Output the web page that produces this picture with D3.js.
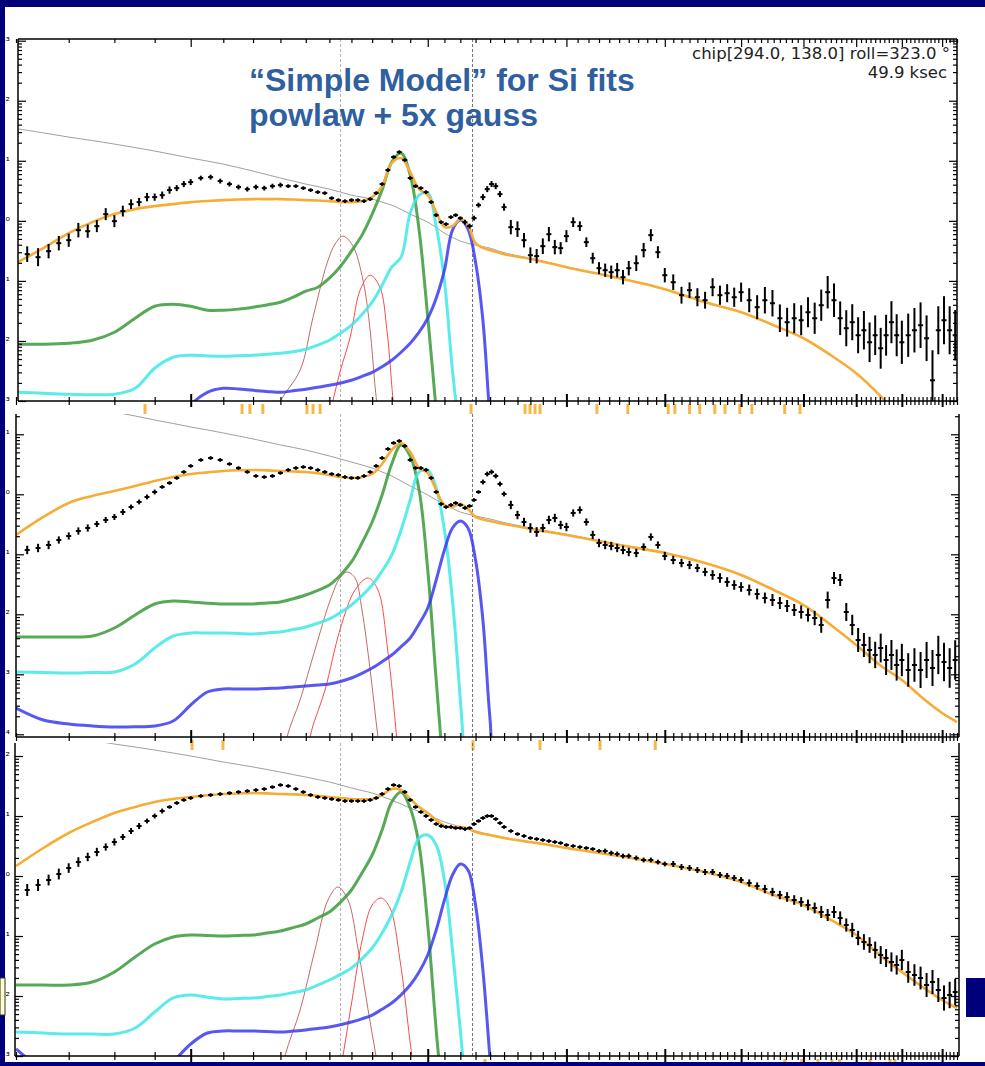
<!DOCTYPE html>
<meta charset="utf-8">
<script src="https://cdn.jsdelivr.net/npm/d3@7"></script>
<style>
  body { margin: 0; background: #00007a; }
</style>
<div id="chart"></div>
<script>

// energy grid (keV) for the model curves
const modelE = [0.60, 0.65, 0.70, 0.75, 0.80, 0.85, 0.90, 0.95, 1.00, 1.05, 1.10, 1.15, 1.20, 1.25, 1.30, 1.35, 1.40, 1.45,
  1.50, 1.55, 1.60, 1.65, 1.70, 1.75, 1.80, 1.85, 1.90, 1.95, 2.00, 2.05, 2.10, 2.15, 2.20, 2.25, 2.30, 2.35, 2.40,
  2.50, 2.75, 3.0, 3.5, 4.0, 4.5, 5.0, 5.5, 6.0, 6.5, 7.0, 7.5, 8.0, 8.5, 9.0, 9.4];

// all rates are log10(counts/s/keV)
// --- panel 1 models
const p1Gray = [1.537, 1.465, 1.395, 1.337, 1.278, 1.22, 1.162, 1.103, 1.045, 0.995, 0.945, 0.887, 0.828, 0.77, 0.712, 0.662, 0.612, 0.57,
  0.528, 0.478, 0.428, 0.395, 0.362, 0.312, 0.262, 0.19, 0.112, 0.045, -0.022, -0.11, -0.205, -0.275, -0.338, -0.375, -0.405, -0.43, -0.455,
  -0.53, -0.645, -0.765, -0.95, -1.135, -1.35, -1.52, -1.735, -1.95, -2.235, -2.535, -2.9, -3.3, -3.7, -4.0, -4.15];
const p1Total = [-0.705, -0.455, -0.205, -0.022, 0.112, 0.195, 0.245, 0.278, 0.312, 0.33, 0.345, 0.355, 0.362, 0.362, 0.362, 0.355, 0.345, 0.338,
  0.328, 0.312, 0.312, 0.328, 0.395, 0.578, 0.962, 1.045, 0.812, 0.528, 0.428, 0.145, -0.105, -0.088, 0.028, -0.072, -0.372, -0.45, -0.488,
  -0.555, -0.655, -0.772, -0.955, -1.138, -1.355, -1.522, -1.738, -1.955, -2.238, -2.538, -2.905, -3.32, -3.7, -4.0, -4.15];
const p1Green = [-2.055, -2.055, -2.038, -1.988, -1.855, -1.622, -1.422, -1.388, -1.422, -1.488, -1.488, -1.47, -1.438, -1.4, -1.355, -1.27, -1.172, -1.105,
  -0.955, -0.755, -0.505, -0.238, 0.112, 0.512, 0.978, 1.128, 0.762, -0.15, -1.605, -3.155, -5, -6, -6, -6, -6, -6, -6,
  -6, -6, -6, -6, -6, -6, -6, -6, -6, -6, -6, -6, -6, -6, -6, -6];
const p1Cyan = [-2.855, -2.87, -2.888, -2.895, -2.888, -2.788, -2.455, -2.272, -2.238, -2.25, -2.255, -2.245, -2.238, -2.222, -2.205, -2.18, -2.138, -2.07,
  -1.988, -1.87, -1.738, -1.56, -1.355, -1.072, -0.772, -0.605, 0.128, 0.428, 0.462, -0.09, -1.0, -2.5, -3.655, -5, -6, -6, -6,
  -6, -6, -6, -6, -6, -6, -6, -6, -6, -6, -6, -6, -6, -6, -6, -6];
const p1Blue = [-6, -6, -6, -6, -6, -6, -6, -3.6, -3.07, -2.855, -2.788, -2.8, -2.822, -2.84, -2.855, -2.83, -2.805, -2.77,
  -2.738, -2.7, -2.655, -2.59, -2.522, -2.43, -2.322, -2.188, -2.038, -1.855, -1.622, -1.288, -0.822, -0.155, 0.012, -0.138, -0.688, -1.655, -3.32,
  -6, -6, -6, -6, -6, -6, -6, -6, -6, -6, -6, -6, -6, -6, -6, -6];
const p1LineAE = [1.261, 1.30, 1.377, 1.43, 1.49, 1.525, 1.56, 1.605, 1.655, 1.69, 1.713, 1.738];
const p1LineA = [-3.49, -3.0, -2.49, -1.605, -0.705, -0.388, -0.255, -0.405, -0.988, -1.822, -2.705, -3.49];
const p1LineBE = [1.481, 1.516, 1.547, 1.594, 1.641, 1.690, 1.739, 1.775, 1.806, 1.832];
const p1LineB = [-3.49, -2.99, -2.52, -1.94, -1.155, -0.905, -1.105, -1.82, -2.938, -3.655];

// --- panel 2 models
const p2Gray = [1.655, 1.59, 1.522, 1.447, 1.372, 1.305, 1.238, 1.18, 1.122, 1.072, 1.022, 0.972, 0.922, 0.872, 0.822, 0.78, 0.738, 0.688,
  0.638, 0.588, 0.538, 0.488, 0.438, 0.372, 0.305, 0.222, 0.138, 0.063, -0.012, -0.095, -0.178, -0.237, -0.295, -0.33, -0.362, -0.387, -0.412,
  -0.47, -0.58, -0.665, -0.835, -0.97, -1.14, -1.34, -1.59, -1.84, -2.17, -2.505, -2.84, -3.09, -3.39, -3.64, -3.79];
const p2Total = [-0.678, -0.378, -0.145, -0.028, 0.055, 0.138, 0.222, 0.288, 0.338, 0.365, 0.388, 0.4, 0.405, 0.398, 0.388, 0.38, 0.372, 0.35,
  0.322, 0.288, 0.272, 0.288, 0.338, 0.505, 0.738, 0.855, 0.705, 0.438, 0.355, 0.072, -0.178, -0.212, -0.162, -0.245, -0.378, -0.42, -0.445,
  -0.495, -0.595, -0.678, -0.845, -0.978, -1.145, -1.345, -1.595, -1.845, -2.178, -2.512, -2.845, -3.095, -3.395, -3.645, -3.795];
const p2Green = [-2.378, -2.378, -2.378, -2.362, -2.228, -2.012, -1.828, -1.778, -1.795, -1.815, -1.828, -1.828, -1.828, -1.81, -1.795, -1.74, -1.678, -1.6,
  -1.512, -1.345, -1.128, -0.812, -0.462, -0.012, 0.505, 0.822, 0.638, 0.072, -1.262, -3.095, -4.76, -6, -6, -6, -6, -6, -6,
  -6, -6, -6, -6, -6, -6, -6, -6, -6, -6, -6, -6, -6, -6, -6, -6];
const p2Cyan = [-2.962, -2.97, -2.978, -2.97, -2.962, -2.828, -2.562, -2.362, -2.312, -2.312, -2.312, -2.32, -2.328, -2.31, -2.295, -2.255, -2.212, -2.15,
  -2.078, -1.97, -1.845, -1.69, -1.512, -1.28, -1.012, -0.595, -0.095, 0.372, 0.405, 0.105, -0.595, -1.762, -3.428, -5.1, -6, -6, -6,
  -6, -6, -6, -6, -6, -6, -6, -6, -6, -6, -6, -6, -6, -6, -6, -6];
const p2Blue = [-3.562, -3.762, -3.828, -3.86, -3.878, -3.875, -3.862, -3.778, -3.512, -3.295, -3.245, -3.245, -3.245, -3.235, -3.228, -3.21, -3.195, -3.18,
  -3.162, -3.12, -3.062, -2.985, -2.895, -2.79, -2.678, -2.54, -2.395, -2.16, -1.895, -1.428, -0.928, -0.562, -0.445, -0.562, -1.095, -2.095, -3.762,
  -6, -6, -6, -6, -6, -6, -6, -6, -6, -6, -6, -6, -6, -6, -6, -6];
const p2LineAE = [1.29, 1.325, 1.377, 1.438, 1.504, 1.547, 1.579, 1.617, 1.65, 1.69, 1.729, 1.765];
const p2LineA = [-4.9, -4.045, -3.428, -2.595, -1.762, -1.395, -1.295, -1.395, -1.928, -2.928, -4.045, -4.9];
const p2LineBE = [1.39, 1.417, 1.481, 1.547, 1.617, 1.68, 1.729, 1.779, 1.826, 1.85];
const p2LineB = [-4.9, -4.045, -3.262, -2.262, -1.595, -1.395, -1.595, -2.595, -4.045, -4.9];

// --- panel 3 models
const p3Gray = [2.433, 2.375, 2.317, 2.258, 2.2, 2.15, 2.1, 2.05, 2.0, 1.95, 1.9, 1.858, 1.817, 1.775, 1.733, 1.69, 1.65, 1.608,
  1.567, 1.517, 1.467, 1.425, 1.383, 1.325, 1.267, 1.2, 1.133, 1.075, 1.017, 0.958, 0.9, 0.858, 0.817, 0.783, 0.75, 0.717, 0.683,
  0.64, 0.555, 0.472, 0.338, 0.205, 0.072, -0.095, -0.312, -0.478, -0.728, -0.978, -1.312, -1.595, -1.845, -2.062, -2.195];
const p3Total = [0.167, 0.467, 0.717, 0.9, 1.05, 1.15, 1.233, 1.283, 1.317, 1.345, 1.367, 1.377, 1.383, 1.377, 1.367, 1.36, 1.35, 1.335,
  1.317, 1.3, 1.283, 1.28, 1.283, 1.35, 1.45, 1.433, 1.283, 1.15, 1.05, 0.933, 0.833, 0.81, 0.817, 0.79, 0.733, 0.705, 0.683,
  0.633, 0.55, 0.467, 0.333, 0.2, 0.067, -0.1, -0.317, -0.483, -0.733, -0.983, -1.317, -1.6, -1.85, -2.067, -2.2];
const p3Green = [-1.817, -1.817, -1.817, -1.767, -1.6, -1.35, -1.133, -1.017, -0.983, -0.99, -1.0, -0.99, -0.983, -0.95, -0.917, -0.86, -0.8, -0.7,
  -0.6, -0.433, -0.233, 0.05, 0.35, 0.767, 1.233, 1.4, 1.133, 0.517, -0.817, -2.567, -4.07, -6, -6, -6, -6, -6, -6,
  -6, -6, -6, -6, -6, -6, -6, -6, -6, -6, -6, -6, -6, -6, -6, -6];
const p3Cyan = [-2.6, -2.617, -2.633, -2.633, -2.633, -2.533, -2.267, -2.033, -1.983, -2.02, -2.05, -2.04, -2.033, -2.01, -1.983, -1.94, -1.9, -1.82,
  -1.733, -1.64, -1.533, -1.38, -1.2, -0.95, -0.65, -0.267, 0.233, 0.633, 0.683, 0.517, -0.067, -1.233, -2.567, -4.07, -6, -6, -6,
  -6, -6, -6, -6, -6, -6, -6, -6, -6, -6, -6, -6, -6, -6, -6, -6];
const p3Blue = [-2.883, -3.233, -3.4, -3.45, -3.45, -3.45, -3.4, -3.1, -2.8, -2.617, -2.583, -2.583, -2.583, -2.59, -2.6, -2.585, -2.567, -2.54,
  -2.517, -2.48, -2.433, -2.38, -2.317, -2.22, -2.117, -1.98, -1.817, -1.6, -1.317, -0.9, -0.4, 0.017, 0.2, 0.1, -0.483, -1.567, -3.067,
  -6, -6, -6, -6, -6, -6, -6, -6, -6, -6, -6, -6, -6, -6, -6, -6];
const p3LineAE = [1.279, 1.317, 1.377, 1.438, 1.494, 1.538, 1.584, 1.632, 1.680, 1.719, 1.755];
const p3LineA = [-3.733, -3.0, -2.233, -1.233, -0.4, -0.183, -0.4, -1.233, -2.233, -3.0, -3.733];
const p3LineBE = [1.525, 1.561, 1.603, 1.651, 1.700, 1.745, 1.791, 1.844, 1.898, 1.926];
const p3LineB = [-3.9, -3.0, -2.067, -1.067, -0.483, -0.367, -0.533, -1.4, -2.733, -3.4];

// --- spectra (bin centres, keV)
const dataE = [0.62, 0.64, 0.66, 0.68, 0.70, 0.72, 0.74, 0.76, 0.78, 0.80, 0.82, 0.84, 0.86, 0.88, 0.90, 0.92, 0.94, 0.96, 0.98, 1.00,
  1.03, 1.06, 1.09, 1.12, 1.15, 1.18, 1.21, 1.24, 1.27, 1.30, 1.33, 1.36, 1.39, 1.42, 1.45, 1.48, 1.51, 1.54, 1.57, 1.60,
  1.63, 1.66, 1.69, 1.72, 1.75, 1.78, 1.81, 1.84, 1.87, 1.90, 1.93, 1.96, 1.99, 2.02, 2.05, 2.08, 2.11, 2.14, 2.17, 2.20,
  2.23, 2.26, 2.29, 2.32, 2.35, 2.38, 2.41, 2.44, 2.47, 2.50,
  2.55, 2.60, 2.65, 2.70, 2.75, 2.80, 2.85, 2.90, 2.95, 3.00, 3.06, 3.12, 3.18, 3.24, 3.30, 3.36, 3.42, 3.48, 3.54, 3.60,
  3.68, 3.76, 3.84, 3.92, 4.00, 4.10, 4.20, 4.30, 4.40, 4.50, 4.60, 4.70, 4.80, 4.90, 5.00,
  5.12, 5.24, 5.36, 5.48, 5.60, 5.72, 5.84, 5.96, 6.08, 6.20, 6.32, 6.44, 6.56, 6.68, 6.80, 6.92, 7.04, 7.16, 7.28, 7.40,
  7.52, 7.64, 7.76, 7.88, 8.00, 8.15, 8.30, 8.45, 8.60, 8.75, 8.90, 9.05, 9.20, 9.35];

const p1Rate = [-0.555, -0.605, -0.505, -0.372, -0.322, -0.155, -0.172, -0.088, 0.112, -0.005,
  0.162, 0.278, 0.312, 0.395, 0.395, 0.428, 0.512, 0.545, 0.612, 0.645,
  0.712, 0.728, 0.662, 0.612, 0.562, 0.528, 0.562, 0.545, 0.578, 0.595,
  0.578, 0.578, 0.545, 0.512, 0.478, 0.462, 0.378, 0.345, 0.328, 0.345,
  0.345, 0.328, 0.362, 0.462, 0.612, 0.845, 1.062, 1.145, 1.012, 0.712,
  0.578, 0.545, 0.478, 0.312, 0.095, -0.022, -0.055, 0.062, 0.095, 0.045,
  -0.022, -0.088, 0.045, 0.262, 0.395, 0.528, 0.612, 0.578, 0.445, 0.228,
  -0.105, -0.138, -0.322, -0.572, -0.588, -0.422, -0.222, -0.438, -0.455, -0.255,
  -0.022, -0.088, -0.355, -0.622, -0.788, -0.822, -0.855, -0.822, -0.938, -0.788,
  -0.705, -0.488, -0.238, -0.522, -0.905,
  -1.022, -1.238, -1.155, -1.272, -1.322, -1.105, -1.238, -1.205, -1.272, -1.188,
  -1.322, -1.438, -1.322, -1.372, -1.622, -1.688, -1.622, -1.655, -1.522, -1.622,
  -1.405, -1.188, -1.322, -1.622, -1.788, -1.688, -1.905, -1.822, -2.022, -1.905,
  -2.122, -1.905, -1.688, -1.905, -2.022, -1.905, -1.822, -1.738, -1.955, -2.655,
  -1.822, -1.655, -1.822, -1.905];
const p1Err = [0.13, 0.15, 0.12, 0.12, 0.11, 0.12, 0.11, 0.1, 0.1, 0.1,
  0.09, 0.08, 0.07, 0.07, 0.06, 0.06, 0.06, 0.05, 0.05, 0.05,
  0.04, 0.04, 0.04, 0.04, 0.04, 0.04, 0.04, 0.04, 0.04, 0.04,
  0.03, 0.03, 0.03, 0.03, 0.03, 0.03, 0.03, 0.03, 0.03, 0.03,
  0.03, 0.03, 0.03, 0.03, 0.03, 0.03, 0.03, 0.03, 0.03, 0.03,
  0.03, 0.03, 0.03, 0.03, 0.03, 0.03, 0.03, 0.03, 0.03, 0.03,
  0.04, 0.04, 0.04, 0.04, 0.05, 0.05, 0.05, 0.05, 0.05, 0.06,
  0.12, 0.13, 0.12, 0.13, 0.12, 0.13, 0.12, 0.12, 0.1, 0.1,
  0.08, 0.08, 0.08, 0.09, 0.1, 0.11, 0.11, 0.12, 0.12, 0.12,
  0.13, 0.12, 0.1, 0.1, 0.12,
  0.13, 0.14, 0.13, 0.15, 0.14, 0.15, 0.16, 0.15, 0.16, 0.16,
  0.2, 0.2, 0.22, 0.22, 0.23, 0.24, 0.25, 0.25, 0.25, 0.26,
  0.26, 0.27, 0.28, 0.28, 0.3, 0.3, 0.3, 0.32, 0.33, 0.33,
  0.34, 0.34, 0.35, 0.35, 0.36, 0.36, 0.37, 0.38, 0.38, 0.5,
  0.4, 0.4, 0.4, 0.42];

const p2Rate = [-0.928, -0.895, -0.845, -0.762, -0.695, -0.612, -0.562, -0.495, -0.428, -0.378,
  -0.295, -0.212, -0.128, -0.045, 0.038, 0.122, 0.188, 0.272, 0.372, 0.472,
  0.572, 0.605, 0.572, 0.505, 0.438, 0.372, 0.305, 0.288, 0.305, 0.355,
  0.405, 0.438, 0.455, 0.438, 0.405, 0.372, 0.338, 0.322, 0.288, 0.272,
  0.272, 0.305, 0.372, 0.472, 0.605, 0.755, 0.855, 0.888, 0.805, 0.572,
  0.438, 0.438, 0.405, 0.272, 0.038, -0.162, -0.212, -0.178, -0.145, -0.178,
  -0.228, -0.195, -0.095, 0.038, 0.205, 0.338, 0.372, 0.305, 0.172, 0.005,
  -0.178, -0.345, -0.462, -0.562, -0.628, -0.562, -0.428, -0.395, -0.512, -0.545,
  -0.312, -0.262, -0.462, -0.678, -0.812, -0.845, -0.862, -0.895, -0.928, -0.962,
  -0.978, -0.878, -0.712, -0.845, -1.028,
  -1.095, -1.145, -1.178, -1.228, -1.295, -1.345, -1.395, -1.462, -1.512, -1.545,
  -1.595, -1.662, -1.728, -1.762, -1.812, -1.862, -1.928, -1.962, -2.012, -2.062,
  -2.178, -1.762, -1.395, -1.428, -1.962, -2.178, -2.428, -2.512, -2.595, -2.678,
  -2.562, -2.762, -2.678, -2.845, -2.762, -2.928, -2.845, -2.928, -2.762, -2.895,
  -2.678, -2.795, -2.895, -2.762];
const p2Err = [0.07, 0.07, 0.07, 0.06, 0.06, 0.06, 0.06, 0.05, 0.05, 0.05,
  0.05, 0.04, 0.04, 0.04, 0.04, 0.03, 0.03, 0.03, 0.03, 0.03,
  0.03, 0.03, 0.03, 0.03, 0.03, 0.03, 0.03, 0.03, 0.03, 0.03,
  0.03, 0.03, 0.03, 0.03, 0.03, 0.03, 0.03, 0.03, 0.03, 0.03,
  0.03, 0.03, 0.03, 0.03, 0.03, 0.03, 0.03, 0.03, 0.03, 0.03,
  0.03, 0.03, 0.03, 0.03, 0.03, 0.03, 0.03, 0.03, 0.03, 0.03,
  0.03, 0.03, 0.03, 0.03, 0.04, 0.04, 0.04, 0.04, 0.04, 0.04,
  0.07, 0.07, 0.07, 0.08, 0.08, 0.07, 0.07, 0.07, 0.07, 0.07,
  0.06, 0.06, 0.06, 0.07, 0.07, 0.07, 0.07, 0.07, 0.07, 0.07,
  0.07, 0.06, 0.06, 0.06, 0.07,
  0.07, 0.07, 0.07, 0.07, 0.07, 0.08, 0.08, 0.08, 0.08, 0.08,
  0.09, 0.09, 0.09, 0.1, 0.1, 0.1, 0.1, 0.11, 0.11, 0.12,
  0.13, 0.14, 0.1, 0.1, 0.15, 0.17, 0.2, 0.2, 0.22, 0.22,
  0.24, 0.25, 0.25, 0.26, 0.27, 0.28, 0.28, 0.3, 0.3, 0.3,
  0.32, 0.32, 0.33, 0.33];

const p3Rate = [-0.233, -0.15, -0.067, 0.033, 0.133, 0.233, 0.317, 0.4, 0.483, 0.567,
  0.65, 0.75, 0.833, 0.917, 1.0, 1.083, 1.15, 1.217, 1.267, 1.3,
  1.333, 1.35, 1.367, 1.383, 1.4, 1.417, 1.433, 1.45, 1.483, 1.517,
  1.5, 1.45, 1.4, 1.35, 1.317, 1.3, 1.283, 1.267, 1.25, 1.25,
  1.25, 1.25, 1.267, 1.3, 1.367, 1.45, 1.517, 1.5, 1.4, 1.267,
  1.15, 1.067, 1.0, 0.933, 0.867, 0.833, 0.817, 0.817, 0.8, 0.8,
  0.783, 0.8, 0.867, 0.917, 0.967, 1.0, 1.0, 0.95, 0.883, 0.817,
  0.75, 0.7, 0.667, 0.633, 0.617, 0.6, 0.583, 0.567, 0.55, 0.517,
  0.5, 0.483, 0.467, 0.45, 0.417, 0.417, 0.383, 0.367, 0.333, 0.333,
  0.3, 0.267, 0.267, 0.233, 0.2,
  0.2, 0.15, 0.133, 0.1, 0.067, 0.067, 0.017, 0.0, -0.033, -0.067,
  -0.117, -0.167, -0.217, -0.267, -0.317, -0.35, -0.4, -0.433, -0.483, -0.533,
  -0.6, -0.65, -0.6, -0.7, -0.817, -0.9, -1.033, -1.1, -1.15, -1.233,
  -1.317, -1.367, -1.433, -1.483, -1.4, -1.6, -1.65, -1.7, -1.817, -1.767,
  -1.9, -2.033, -1.983, -1.933];
const p3Err = [0.1, 0.1, 0.09, 0.09, 0.08, 0.08, 0.07, 0.07, 0.06, 0.06,
  0.05, 0.05, 0.05, 0.04, 0.04, 0.04, 0.03, 0.03, 0.03, 0.03,
  0.03, 0.03, 0.03, 0.03, 0.03, 0.03, 0.03, 0.03, 0.03, 0.03,
  0.03, 0.03, 0.03, 0.03, 0.03, 0.03, 0.03, 0.03, 0.03, 0.03,
  0.03, 0.03, 0.03, 0.03, 0.03, 0.03, 0.03, 0.03, 0.03, 0.03,
  0.03, 0.03, 0.03, 0.03, 0.03, 0.03, 0.03, 0.03, 0.03, 0.03,
  0.03, 0.03, 0.03, 0.03, 0.03, 0.03, 0.03, 0.03, 0.03, 0.03,
  0.03, 0.03, 0.03, 0.03, 0.03, 0.03, 0.03, 0.03, 0.03, 0.03,
  0.03, 0.03, 0.03, 0.03, 0.03, 0.04, 0.04, 0.04, 0.04, 0.04,
  0.04, 0.04, 0.04, 0.04, 0.04,
  0.05, 0.05, 0.05, 0.05, 0.05, 0.05, 0.05, 0.05, 0.05, 0.05,
  0.06, 0.06, 0.07, 0.07, 0.07, 0.08, 0.08, 0.08, 0.09, 0.09,
  0.1, 0.1, 0.1, 0.11, 0.11, 0.12, 0.12, 0.13, 0.13, 0.14,
  0.15, 0.15, 0.16, 0.16, 0.17, 0.18, 0.18, 0.19, 0.2, 0.2,
  0.2, 0.21, 0.22, 0.22];

// ignored-channel markers under each panel (keV)
const p1Marks = [0.875, 1.162, 1.189, 1.235, 1.405, 1.43, 1.46, 2.27, 2.658, 2.697, 2.737, 2.777, 3.28, 3.59, 4.04, 4.12, 4.30, 4.43, 4.63, 4.77, 4.98, 5.16, 5.68, 5.94];
const p2Marks = [1.004, 1.099, 2.283, 2.777, 3.31, 3.89];
const p3Marks = [2.364, 5.68, 5.97, 6.26, 6.52, 6.67, 7.29, 7.73, 7.84];

// line energies marked with dashed lines
const dashE = [1.55, 2.28];

const titleLines = ["\u201CSimple Model\u201D for Si fits", "powlaw + 5x gauss"];
const infoLines = ["chip[294.0, 138.0] roll=323.0 \u00B0", "49.9 ksec"];

// ---------------------------------------------------------------
const W = 985, H = 1066;
const svg = d3.select("#chart").append("svg")
  .attr("width", W).attr("height", H)
  .style("display", "block");

svg.append("rect").attr("width", W).attr("height", H).attr("fill", "#00007a");
svg.append("rect").attr("x", 5).attr("y", 7).attr("width", W - 5).attr("height", 1055).attr("fill", "#fff");

const x = d3.scaleLog().domain([0.6, 9.4]).range([16, 957]);
const xMinor = d3.range(6, 95).map(d => d / 10);
const xMajor = d3.range(1, 10);

const panels = [
  { top: 39, bottom: 401, left: 18, right: 957, lo: -3, hi: 3.028, topAxis: true,
    gray: p1Gray, total: p1Total, green: p1Green, cyan: p1Cyan, blue: p1Blue,
    lineA: [p1LineAE, p1LineA], lineB: [p1LineBE, p1LineB], rate: p1Rate, err: p1Err, marks: p1Marks },
  { top: 414, bottom: 737, left: 16, right: 959, lo: -4.045, hi: 1.338, topAxis: false,
    gray: p2Gray, total: p2Total, green: p2Green, cyan: p2Cyan, blue: p2Blue,
    lineA: [p2LineAE, p2LineA], lineB: [p2LineBE, p2LineB], rate: p2Rate, err: p2Err, marks: p2Marks },
  { top: 743, bottom: 1056, left: 15, right: 959, lo: -3.0, hi: 2.217, topAxis: false,
    gray: p3Gray, total: p3Total, green: p3Green, cyan: p3Cyan, blue: p3Blue,
    lineA: [p3LineAE, p3LineA], lineB: [p3LineBE, p3LineB], rate: p3Rate, err: p3Err, marks: p3Marks }
];

panels.forEach((p, i) => {
  const y = d3.scaleLog().domain([Math.pow(10, p.lo), Math.pow(10, p.hi)]).range([p.bottom, p.top]);
  const g = svg.append("g");

  const clipId = "clip" + i;
  svg.append("clipPath").attr("id", clipId)
    .append("rect").attr("x", p.left).attr("y", p.top)
    .attr("width", p.right - p.left).attr("height", p.bottom - p.top);
  const plot = g.append("g").attr("clip-path", `url(#${clipId})`);

  const line = d3.line()
    .x(d => x(d[0]))
    .y(d => y(Math.pow(10, d[1])))
    .curve(d3.curveCatmullRom.alpha(0.5));
  const zipModel = vals => modelE.map((e, k) => [e, vals[k]]);

  // dashed line energies
  dashE.forEach((e, k) => {
    plot.append("line")
      .attr("x1", x(e)).attr("x2", x(e)).attr("y1", p.top).attr("y2", p.bottom)
      .attr("stroke", k === 0 ? "#b0b0b0" : "#707070")
      .attr("stroke-width", 1).attr("stroke-dasharray", "3,2");
  });

  plot.append("path").datum(zipModel(p.gray)).attr("d", line)
    .attr("fill", "none").attr("stroke", "#a0a0a0").attr("stroke-width", 1);

  [[p.lineA, "#c46a66"], [p.lineB, "#ff4a4a"]].forEach(([ln, col]) => {
    plot.append("path").datum(ln[0].map((e, k) => [e, ln[1][k]])).attr("d", line)
      .attr("fill", "none").attr("stroke", col).attr("stroke-width", 1);
  });

  [[p.green, "#3a9a3a"], [p.cyan, "#3ee8e8"], [p.blue, "#3a3af0"]].forEach(([vals, col]) => {
    plot.append("path").datum(zipModel(vals)).attr("d", line)
      .attr("fill", "none").attr("stroke", col).attr("stroke-width", 3)
      .attr("stroke-opacity", 0.85);
  });

  plot.append("path").datum(zipModel(p.total)).attr("d", line)
    .attr("fill", "none").attr("stroke", "#f7ac35").attr("stroke-width", 2.6);

  // data crosses
  const pts = dataE.map((e, k) => ({ e: e, v: p.rate[k], s: p.err[k] }));
  const cross = plot.append("g").attr("stroke", "#000").attr("stroke-width", 2);
  cross.selectAll("line.v").data(pts).join("line").attr("class", "v")
    .attr("x1", d => x(d.e)).attr("x2", d => x(d.e))
    .attr("y1", d => y(Math.pow(10, d.v - d.s)))
    .attr("y2", d => y(Math.pow(10, d.v + d.s)));
  cross.selectAll("line.h").data(pts).join("line").attr("class", "h")
    .attr("x1", d => x(d.e) - 2.5).attr("x2", d => x(d.e) + 2.5)
    .attr("y1", d => y(Math.pow(10, d.v))).attr("y2", d => y(Math.pow(10, d.v)));

  // ignored-channel markers
  g.selectAll("rect.mark").data(p.marks).join("rect").attr("class", "mark")
    .attr("x", d => x(d) - 1.5).attr("y", p.bottom + 3)
    .attr("width", 3).attr("height", 10)
    .attr("fill", "#f7b84a");

  // axes
  const yMinor = [];
  for (let k = Math.floor(p.lo); k <= Math.ceil(p.hi); k++) {
    for (let m = 1; m < 10; m++) {
      const v = m * Math.pow(10, k);
      if (Math.log10(v) >= p.lo - 1e-6 && Math.log10(v) <= p.hi) yMinor.push(v);
    }
  }
  const yMajor = yMinor.filter(v => Math.abs(Math.log10(v) - Math.round(Math.log10(v))) < 1e-9);

  const styleAxis = sel => {
    sel.select(".domain").attr("stroke", "#000").attr("stroke-width", 1.5);
    sel.selectAll(".tick line").attr("stroke", "#000").attr("stroke-width", 1.2);
    sel.selectAll(".tick text").remove();
  };

  const bottomG = g.append("g").attr("transform", `translate(0,${p.bottom})`)
    .call(d3.axisBottom(x).tickValues(xMinor).tickSizeOuter(0).tickFormat(""))
    .call(styleAxis);
  bottomG.select(".domain").attr("d", `M${p.left},0H${p.right}`);
  bottomG.selectAll(".tick line")
    .attr("y1", d => xMajor.some(m => Math.abs(m - d) < 1e-6) ? -7 : -4)
    .attr("y2", d => xMajor.some(m => Math.abs(m - d) < 1e-6) ? 6 : 4)
    .attr("stroke-width", d => xMajor.some(m => Math.abs(m - d) < 1e-6) ? 2 : 1.2);

  if (p.topAxis) {
    const topG = g.append("g").attr("transform", `translate(0,${p.top})`)
      .call(d3.axisTop(x).tickValues(xMinor).tickSizeOuter(0).tickFormat(""))
      .call(styleAxis);
    topG.select(".domain").attr("d", `M${p.left},0H${p.right}`);
    topG.selectAll(".tick line")
      .attr("y1", 0)
      .attr("y2", d => xMajor.some(m => Math.abs(m - d) < 1e-6) ? 8 : 4);
  }

  const yAxisAt = (gen, xpos, sign) => {
    const ag = g.append("g").attr("transform", `translate(${xpos},0)`)
      .call(gen(y).tickValues(yMinor).tickSizeOuter(0).tickFormat(""))
      .call(styleAxis);
    ag.select(".domain").attr("d", `M0,${p.top}V${p.bottom}`);
    ag.selectAll(".tick line")
      .attr("x2", d => sign * (yMajor.includes(d) ? 8 : 4));
  };
  yAxisAt(d3.axisRight, p.left, 1);
  yAxisAt(d3.axisLeft, p.right, -1);

  // decade labels; the slide edge hides all but their last few pixels
  g.selectAll("text.ylab").data(yMajor).join("text").attr("class", "ylab")
    .attr("x", 10).attr("y", d => y(d) + 4)
    .attr("text-anchor", "end")
    .style("font-family", "DejaVu Sans, sans-serif").style("font-size", "11px")
    .text(d => "10" + String(Math.round(Math.log10(d))).replace("-", "\u207B")
      .replace(/[0-9]/g, c => "\u2070\u00B9\u00B2\u00B3\u2074\u2075\u2076\u2077\u2078\u2079"[+c]));
});

// annotation text
svg.selectAll("text.title").data(titleLines).join("text").attr("class", "title")
  .attr("x", 249).attr("y", (d, k) => 91 + k * 35)
  .style("font-family", "Liberation Sans, Arial, sans-serif")
  .style("font-weight", "bold").style("font-size", "32px")
  .attr("fill", "#2f5f9e")
  .text(d => d);

svg.selectAll("text.info").data(infoLines).join("text").attr("class", "info")
  .attr("x", (d, k) => k === 0 ? 950 : 947).attr("y", (d, k) => 59 + k * 19)
  .attr("text-anchor", "end")
  .style("font-family", "DejaVu Sans, sans-serif").style("font-size", "16.5px")
  .attr("fill", "#222")
  .text(d => d);

// slide frame pieces
svg.append("rect").attr("x", 0).attr("y", 0).attr("width", 5).attr("height", H).attr("fill", "#00007a");
svg.append("rect").attr("x", 0).attr("y", 978).attr("width", 5).attr("height", 37)
  .attr("fill", "#ffffcc").attr("stroke", "#333").attr("stroke-width", 1);
svg.append("rect").attr("x", 966).attr("y", 978).attr("width", 19).attr("height", 39).attr("fill", "#00007a");
svg.append("rect").attr("x", 0).attr("y", 1062).attr("width", W).attr("height", 4).attr("fill", "#00007a");

</script>
